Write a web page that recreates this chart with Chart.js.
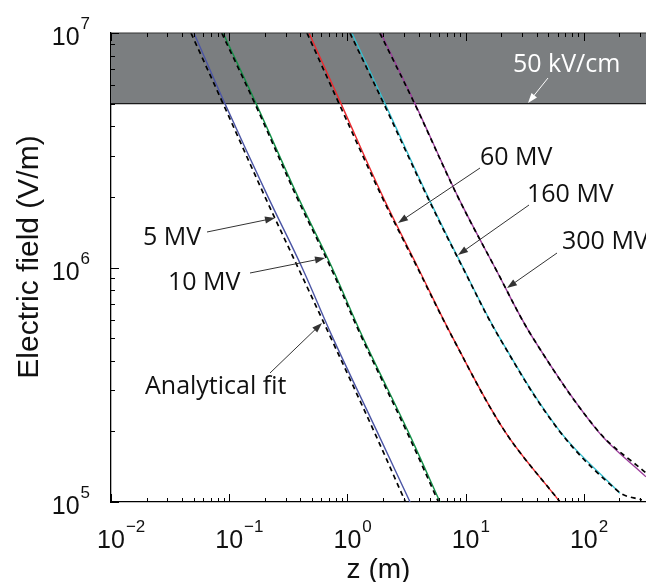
<!DOCTYPE html>
<html>
<head>
<meta charset="utf-8">
<script src="https://cdn.jsdelivr.net/npm/chart.js@4/dist/chart.umd.min.js"></script>
<style>
  body { margin: 0; background: #fff; }
  canvas { display: block; }
</style>
</head>
<body>
<canvas id="myChart" width="646" height="582"></canvas>
<script>
// field levels (V/m) the curves were read at
const eLevels = [1e7, 5e6, 2e6, 1e6, 5e5, 2e5, 1e5];

// simulated curves, z in m
const z5MV = [0.0503, 0.092, 0.213, 0.413, 0.755, 1.78, 3.39];
const z10MV = [0.0888, 0.169, 0.382, 0.741, 1.36, 3.26, 6.07];
const z60MV = [0.473, 0.883, 2.0, 3.95, 7.82, 21.5, 62.9];
const e160MV = [1e7, 5e6, 2e6, 1e6, 5e5, 2e5, 1.09e5];
const z160MV = [1.09, 2.08, 4.81, 9.51, 19.5, 62.9, 202];
const e300MV = [1e7, 5e6, 2e6, 1e6, 5e5, 2e5, 1.28e5];
const z300MV = [1.92, 3.73, 8.63, 17.7, 37.2, 132, 336];

// analytical fits (dashed)
const z5MVFit = [0.0475, 0.0887, 0.201, 0.382, 0.726, 1.68, 3.1];
const z10MVFit = [0.0865, 0.165, 0.372, 0.722, 1.33, 3.17, 5.9];
const z60MVFit = [0.455, 0.85, 1.96, 3.9, 7.8, 21.5, 63];
const e160MVFit = [1e7, 5e6, 2e6, 1e6, 5e5, 2e5, 1.1e5, 1.02e5];
const z160MVFit = [1.05, 2.03, 4.75, 9.45, 19.4, 62.5, 200, 310];
const e300MVFit = [1e7, 5e6, 2e6, 1e6, 5e5, 2e5, 1.33e5];
const z300MVFit = [1.88, 3.7, 8.6, 17.7, 37.2, 133, 336];

// breakdown band
const bandLow = 5e6;
const bandHigh = 1e7;

// axes
const xMin = 0.01, xMax = 336;
const yMin = 1e5, yMax = 1e7;
const xTicks = [0.01, 0.1, 1, 10, 100];
const xTickExp = ["\u22122", "\u22121", "0", "1", "2"];
const yTicks = [1e5, 1e6, 1e7];
const yTickExp = ["5", "6", "7"];

function pts(zs, es) {
  return zs.map((z, i) => ({ x: z, y: es[i] }));
}

function fitSet(zs, es) {
  return {
    data: pts(zs, es), borderColor: "#000", borderWidth: 1.7,
    borderDash: [5, 4], pointRadius: 0, showLine: true, tension: 0.35
  };
}
function simSet(zs, es, color) {
  return {
    data: pts(zs, es), borderColor: color, borderWidth: 1.4,
    pointRadius: 0, showLine: true, tension: 0.35
  };
}

// first datasets end up on top, so the fits go first
const datasets = [
  fitSet(z5MVFit, eLevels),
  fitSet(z10MVFit, eLevels),
  fitSet(z60MVFit, eLevels),
  fitSet(z160MVFit, e160MVFit),
  fitSet(z300MVFit, e300MVFit),
  simSet(z5MV, eLevels, "#4b55a5"),
  simSet(z10MV, eLevels, "#139148"),
  simSet(z60MV, eLevels, "#ee2a2f"),
  simSet(z160MV, e160MV, "#35bfcf"),
  simSet(z300MV, e300MV, "#9b3d9b"),
];

const notes = [
  { text: "5 MV", x: 143, y: 245, from: [207, 232], to: [275, 218] },
  { text: "10 MV", x: 168, y: 290, from: [250, 273], to: [325, 258] },
  { text: "Analytical fit", x: 145, y: 394, from: [270, 373], to: [322, 323] },
  { text: "60 MV", x: 480, y: 165, from: [480, 168], to: [398, 223] },
  { text: "160 MV", x: 527, y: 202, from: [529, 205], to: [458, 255] },
  { text: "300 MV", x: 562, y: 249, from: [557, 253], to: [507, 288] },
];

function arrow(ctx, from, to, color) {
  const ang = Math.atan2(to[1] - from[1], to[0] - from[0]);
  const len = 10, half = 3.5;
  ctx.strokeStyle = color; ctx.fillStyle = color; ctx.lineWidth = 1;
  ctx.beginPath();
  ctx.moveTo(from[0], from[1]);
  ctx.lineTo(to[0] - Math.cos(ang) * len * 0.8, to[1] - Math.sin(ang) * len * 0.8);
  ctx.stroke();
  ctx.beginPath();
  ctx.moveTo(to[0], to[1]);
  ctx.lineTo(to[0] - Math.cos(ang) * len - Math.sin(ang) * half, to[1] - Math.sin(ang) * len + Math.cos(ang) * half);
  ctx.lineTo(to[0] - Math.cos(ang) * len + Math.sin(ang) * half, to[1] - Math.sin(ang) * len - Math.cos(ang) * half);
  ctx.closePath();
  ctx.fill();
}

const decorations = {
  id: "decorations",
  beforeDatasetsDraw(chart) {
    const { ctx, chartArea: a, scales: { y } } = chart;
    const yTop = y.getPixelForValue(bandHigh);
    const yBot = y.getPixelForValue(bandLow);
    ctx.save();
    ctx.fillStyle = "#7b7e80";
    ctx.fillRect(a.left, yTop, a.right - a.left, yBot - yTop);
    ctx.strokeStyle = "#1a1a1a";
    ctx.lineWidth = 1.2;
    ctx.beginPath();
    ctx.moveTo(a.left, yBot); ctx.lineTo(a.right, yBot);
    ctx.stroke();
    ctx.restore();
  },
  afterDraw(chart) {
    const { ctx, chartArea: a, scales: { x, y } } = chart;
    ctx.save();

    // box top
    ctx.strokeStyle = "#333";
    ctx.lineWidth = 1.2;
    ctx.beginPath();
    ctx.moveTo(a.left, a.top); ctx.lineTo(a.right, a.top);
    ctx.stroke();

    // inward ticks
    ctx.strokeStyle = "#000";
    ctx.lineWidth = 1;
    for (let d = -2; d <= 2; d++) {
      for (let m = 1; m <= 9; m++) {
        const v = m * Math.pow(10, d);
        if (v < xMin || v > xMax) continue;
        const px = Math.round(x.getPixelForValue(v)) + 0.5;
        const len = m === 1 ? 8 : 4;
        ctx.beginPath();
        ctx.moveTo(px, a.bottom); ctx.lineTo(px, a.bottom - len);
        ctx.moveTo(px, a.top); ctx.lineTo(px, a.top + len);
        ctx.stroke();
      }
    }
    for (let d = 5; d <= 7; d++) {
      for (let m = 1; m <= 9; m++) {
        const v = m * Math.pow(10, d);
        if (v < yMin || v > yMax) continue;
        const py = Math.round(y.getPixelForValue(v)) + 0.5;
        const len = m === 1 ? 8 : 4;
        ctx.beginPath();
        ctx.moveTo(a.left, py); ctx.lineTo(a.left + len, py);
        ctx.stroke();
      }
    }

    // tick labels 10^n
    ctx.fillStyle = "#111";
    ctx.textBaseline = "alphabetic";
    xTicks.forEach((v, i) => {
      const px = x.getPixelForValue(v);
      ctx.font = "25px 'Liberation Sans', Arial, sans-serif";
      const w = ctx.measureText("10").width;
      ctx.textAlign = "left";
      ctx.fillText("10", px - w / 2, a.bottom + 46);
      ctx.font = "17px 'Liberation Sans', Arial, sans-serif";
      ctx.fillText(xTickExp[i], px + w / 2 + 1, a.bottom + 30);
    });
    yTicks.forEach((v, i) => {
      const py = y.getPixelForValue(v);
      ctx.font = "17px 'Liberation Sans', Arial, sans-serif";
      const we = ctx.measureText(yTickExp[i]).width;
      ctx.textAlign = "right";
      ctx.fillText(yTickExp[i], a.left - 21, py - 4);
      ctx.font = "25px 'Liberation Sans', Arial, sans-serif";
      ctx.fillText("10", a.left - 22 - we, py + 12);
    });

    // axis titles
    ctx.font = "28px 'Liberation Sans', Arial, sans-serif";
    ctx.textAlign = "center";
    ctx.fillText("z (m)", (a.left + a.right) / 2, 578);
    ctx.save();
    ctx.translate(38, 257);
    ctx.rotate(-Math.PI / 2);
    ctx.font = "30px 'Liberation Sans', Arial, sans-serif";
    ctx.fillText("Electric field (V/m)", 0, 0);
    ctx.restore();

    // annotations
    ctx.textAlign = "left";
    ctx.font = "25px 'Open Sans', sans-serif";
    notes.forEach(n => {
      ctx.fillStyle = "#111";
      ctx.fillText(n.text, n.x, n.y);
      arrow(ctx, n.from, n.to, "#333");
    });
    ctx.fillStyle = "#fff";
    ctx.fillText("50 kV/cm", 513, 72);
    arrow(ctx, [548, 78], [528, 103], "#fff");

    ctx.restore();
  }
};

new Chart(document.getElementById("myChart"), {
  type: "scatter",
  data: { datasets: datasets },
  options: {
    responsive: false,
    animation: false,
    devicePixelRatio: 1,
    layout: { padding: { left: 111, top: 33, right: 0, bottom: 80 } },
    plugins: { legend: { display: false }, tooltip: { enabled: false } },
    scales: {
      x: {
        type: "logarithmic", min: xMin, max: xMax,
        ticks: { display: false }, grid: { display: false },
        border: { display: true, color: "#000", width: 1.3 },
        afterFit: s => { s.height = 0; }
      },
      y: {
        type: "logarithmic", min: yMin, max: yMax,
        ticks: { display: false }, grid: { display: false },
        border: { display: true, color: "#000", width: 1.3 },
        afterFit: s => { s.width = 0; }
      }
    }
  },
  plugins: [decorations]
});
</script>
</body>
</html>
